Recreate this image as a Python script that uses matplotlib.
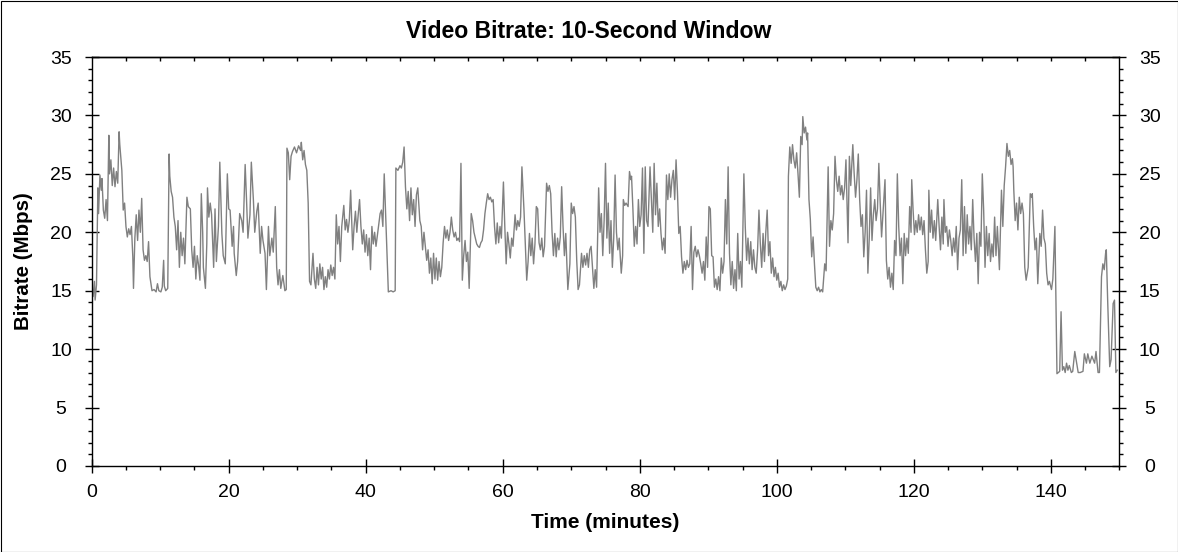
import numpy as np
import matplotlib
matplotlib.use("Agg")
import matplotlib.pyplot as plt
from matplotlib.patches import Rectangle
from matplotlib.ticker import MultipleLocator

plt.rcParams["font.family"] = ["Liberation Sans", "DejaVu Sans"]

title = "Video Bitrate: 10-Second Window"
x_label = "Time (minutes)"
y_label = "Bitrate (Mbps)"

# minutes
time_min = [
    0.0, 0.2, 0.4, 0.5, 0.7, 0.9, 1.0, 1.2, 1.4, 1.5, 1.7, 1.9, 2.1, 2.3, 2.5, 2.6, 2.8, 3.0, 3.2, 3.4,
    3.6, 3.8, 4.0, 4.1, 4.3, 4.4, 4.6, 4.8, 5.0, 5.2, 5.4, 5.6, 5.8, 6.0, 6.1, 6.3, 6.5, 6.7, 6.9, 7.1,
    7.3, 7.5, 7.7, 7.9, 8.1, 8.3, 8.5, 8.8, 9.1, 9.4, 9.6, 9.8, 10.1, 10.3, 10.5, 10.6, 10.8, 11.1, 11.3, 11.4,
    11.6, 11.8, 12.0, 12.2, 12.4, 12.6, 12.8, 13.0, 13.2, 13.4, 13.6, 13.9, 14.1, 14.4, 14.6, 14.8, 15.0, 15.2, 15.4, 15.6,
    15.8, 16.0, 16.2, 16.3, 16.6, 16.8, 16.9, 17.1, 17.3, 17.5, 17.8, 18.0, 18.2, 18.5, 18.7, 19.0, 19.2, 19.5, 19.8, 20.0,
    20.2, 20.5, 20.7, 20.8, 21.1, 21.3, 21.6, 21.9, 22.1, 22.4, 22.6, 22.8, 23.1, 23.3, 23.6, 23.8, 24.1, 24.3, 24.6, 24.8,
    25.0, 25.3,
    25.5, 25.8, 26.0, 26.3, 26.5, 26.8, 27.0, 27.2, 27.4, 27.6, 27.9, 28.2, 28.4, 28.5, 28.7, 28.9, 29.1, 29.3, 29.6, 29.9,
    30.2, 30.5, 30.6, 30.8, 31.0, 31.2, 31.4, 31.6, 31.8, 32.0, 32.3, 32.5, 32.7, 32.9, 33.1, 33.3, 33.5, 33.7, 33.9, 34.1,
    34.3, 34.5, 34.7, 34.9, 35.1, 35.3, 35.5, 35.7, 35.9, 36.1, 36.3, 36.5, 36.8, 37.0, 37.2, 37.4, 37.6, 37.8, 38.1, 38.3,
    38.5, 38.7, 38.9, 39.1, 39.3, 39.5, 39.7, 39.9, 40.1, 40.3, 40.5, 40.7, 40.9, 41.1, 41.3, 41.5, 41.8, 42.1, 42.3, 42.5,
    42.7, 43.0, 43.2, 43.3, 43.7, 44.0, 44.3, 44.4, 44.7, 45.0, 45.2, 45.4, 45.6, 45.8, 46.0, 46.2, 46.4, 46.6, 46.8, 47.0,
    47.2, 47.4, 47.6, 47.9, 48.1, 48.3, 48.5, 48.7, 48.9, 49.1, 49.3, 49.5, 49.7, 49.9, 50.1, 50.3,
    50.5, 50.7, 50.9, 51.1, 51.3, 51.5, 51.7, 51.9, 52.1, 52.3, 52.5, 52.7, 52.9, 53.1, 53.3, 53.5, 53.7, 53.9, 54.1, 54.3,
    54.5, 54.7, 54.9, 55.1, 55.4, 55.6, 55.8, 56.0, 56.2, 56.4, 56.6, 56.8, 57.0, 57.2, 57.4, 57.6, 57.8, 58.0, 58.2, 58.4,
    58.6, 58.8, 59.0, 59.2, 59.4, 59.6, 59.8, 60.1, 60.3, 60.5, 60.7, 60.9, 61.1, 61.3, 61.5, 61.8, 62.0, 62.2, 62.4, 62.6,
    62.8, 63.1, 63.3, 63.5, 63.7, 63.9, 64.1, 64.3, 64.5, 64.7, 64.9, 65.1, 65.3, 65.5, 65.7, 65.9, 66.1, 66.4, 66.6, 66.8,
    67.0, 67.2, 67.4, 67.6, 67.8, 68.0, 68.2, 68.4, 68.6, 68.8, 69.0, 69.2, 69.5, 69.8, 70.0, 70.2, 70.4, 70.6, 70.8, 71.0,
    71.2, 71.5, 71.7, 71.9, 72.1, 72.3, 72.5, 72.7, 72.9, 73.1, 73.3, 73.5, 73.7, 74.0, 74.2, 74.4, 74.6, 74.8, 75.0, 75.2,
    75.4, 75.6, 75.8, 76.0, 76.2,
    76.4, 76.6, 76.8, 77.0, 77.3, 77.5, 77.6, 77.8, 78.0, 78.3, 78.5, 78.7, 78.8, 79.0, 79.2, 79.4, 79.6, 79.8, 80.0, 80.2,
    80.4, 80.6, 80.8, 81.0, 81.2, 81.5, 81.7, 81.9, 82.1, 82.3, 82.5, 82.7, 82.9, 83.1, 83.3, 83.5, 83.7, 83.9, 84.1, 84.3,
    84.5, 84.7, 84.9, 85.1, 85.3, 85.5, 85.7, 85.9, 86.1, 86.3, 86.5, 86.7, 86.9, 87.1, 87.3, 87.5, 87.7, 87.9, 88.1, 88.3,
    88.5, 88.7, 88.9, 89.1, 89.3, 89.5, 89.7, 89.9, 90.1, 90.3, 90.5, 90.7, 90.9, 91.1, 91.3, 91.5, 91.7, 91.9, 92.1, 92.3,
    92.5, 92.7, 92.9, 93.1, 93.3, 93.5, 93.7, 93.9, 94.1, 94.3, 94.5, 94.7, 94.9, 95.2, 95.4, 95.6, 95.8, 96.0, 96.2, 96.4,
    96.6, 96.8, 97.0, 97.2, 97.4, 97.6, 97.8, 98.0, 98.2, 98.4, 98.6, 98.8, 99.0, 99.2, 99.4, 99.6, 99.8, 100.0, 100.2, 100.4,
    100.6, 100.8, 101.0, 101.2, 101.4, 101.6,
    101.7, 101.9, 102.1, 102.3, 102.5, 102.7, 102.9, 103.1, 103.3, 103.5, 103.7, 103.8, 104.0, 104.2, 104.4, 104.5, 104.7, 104.9, 105.1, 105.3,
    105.5, 105.7, 105.9, 106.1, 106.3, 106.5, 106.7, 107.0, 107.2, 107.5, 107.7, 107.9, 108.1, 108.3, 108.5, 108.7, 108.9, 109.1, 109.3, 109.5,
    109.7, 109.9, 110.1, 110.4, 110.6, 110.8, 111.1, 111.3, 111.5, 111.7, 111.9, 112.1, 112.3, 112.5, 112.7, 112.9, 113.1, 113.3, 113.5, 113.7,
    113.9, 114.1, 114.3, 114.5, 114.7, 114.9, 115.1, 115.3, 115.5, 115.8, 116.0, 116.2, 116.4, 116.6, 116.8, 117.0, 117.2, 117.4, 117.6, 117.8,
    118.0, 118.2, 118.4, 118.6, 118.8, 119.0, 119.2, 119.4, 119.6, 119.7, 119.9, 120.1, 120.3, 120.5, 120.7, 120.9, 121.1, 121.3, 121.5, 121.7,
    121.9, 122.1, 122.2, 122.4, 122.6, 122.8, 123.0, 123.2, 123.5, 123.7, 123.9, 124.1, 124.3, 124.4, 124.6, 124.8, 125.0, 125.2, 125.4, 125.6,
    125.8, 126.0, 126.2, 126.4, 126.6, 126.8, 127.0, 127.2,
    127.4, 127.6, 127.8, 128.0, 128.2, 128.4, 128.6, 128.8, 129.0, 129.2, 129.4, 129.6, 129.8, 130.0, 130.2, 130.4, 130.6, 130.8, 131.0, 131.2,
    131.4, 131.6, 131.8, 132.0, 132.2, 132.5, 132.8, 133.0, 133.2, 133.4, 133.6, 133.8, 134.0, 134.2, 134.4, 134.5, 134.6, 134.8, 135.0, 135.2,
    135.4, 135.6, 135.8, 136.0, 136.2, 136.4, 136.7, 137.0, 137.2, 137.3, 137.5, 137.7, 137.9, 138.1, 138.4, 138.6, 138.8, 139.0, 139.2, 139.4,
    139.6, 139.8, 140.1, 140.3, 140.6, 140.7, 140.9, 141.1, 141.3, 141.5, 141.7, 141.9, 142.1, 142.3, 142.5, 142.7, 143.0, 143.2, 143.5, 143.7,
    144.0, 144.3, 144.7, 144.9, 145.2, 145.4, 145.7, 146.0, 146.4, 146.6, 146.9, 147.1, 147.4, 147.6, 147.8, 148.0, 148.1, 148.3, 148.6, 148.8,
    149.1, 149.3, 149.5, 149.7,
]

# Mbps
bitrate_mbps = [
    15.0, 14.5, 15.8, 14.2, 15.5, 23.8, 21.6, 24.9, 23.6, 24.6, 21.9, 21.2, 22.8, 21.0, 28.3, 25.0, 26.2, 24.0, 25.5, 23.9,
    25.2, 24.2, 28.6, 27.5, 26.0, 25.3, 21.9, 22.5, 20.5, 19.6, 20.3, 19.8, 20.5, 17.9, 15.2, 19.5, 21.5, 19.3, 21.9, 20.0,
    22.9, 18.5, 17.6, 18.0, 17.5, 19.2, 16.2, 15.0, 15.1, 14.9, 15.6, 15.0, 14.9, 15.3, 17.6, 15.4, 15.0, 15.2, 26.7, 24.8,
    23.5, 23.0, 21.3, 20.5, 18.5, 21.0, 17.0, 20.0, 18.0, 19.5, 17.3, 23.0, 22.2, 22.0, 18.5, 17.0, 18.8, 16.0, 18.0, 17.2,
    15.9, 23.3, 20.0, 17.0, 15.2, 19.0, 23.8, 21.3, 22.5, 21.5, 17.0, 22.0, 17.5, 20.5, 26.0, 19.9, 18.0, 17.3, 25.0, 22.0,
    21.9, 18.8, 20.5, 18.2, 16.3, 17.5, 21.6, 21.0, 20.0, 25.8, 22.8, 19.5, 21.5, 26.0, 22.8, 20.0, 21.8, 22.5, 18.2, 20.5,
    19.3, 18.2,
    15.1, 20.5, 18.0, 19.5, 18.3, 22.2, 17.0, 15.5, 16.8, 15.2, 16.3, 15.0, 15.1, 27.2, 26.8, 24.5, 26.5, 26.9, 27.3, 26.8,
    27.4, 27.0, 27.7, 26.2, 27.0, 25.8, 25.3, 22.5, 15.8, 15.5, 18.2, 16.0, 15.2, 17.0, 15.5, 17.3, 16.0, 17.0, 15.1, 16.2,
    15.3, 16.8, 16.0, 17.2, 16.3, 17.0, 16.0, 21.5, 19.0, 20.5, 17.5, 20.5, 22.3, 20.2, 21.1, 20.0, 21.0, 23.6, 18.5, 20.5,
    21.8, 20.0, 21.5, 22.8, 20.5, 19.0, 20.2, 18.3, 19.8, 18.0, 19.5, 16.8, 20.5, 19.0, 20.0, 18.8, 20.2, 21.6, 21.9, 20.5,
    25.0, 19.9, 16.5, 14.9, 15.0, 14.9, 15.0, 25.5, 25.3, 25.7, 25.5, 26.0, 27.3, 23.9, 22.0, 23.5, 21.0, 23.8, 21.5, 22.8,
    20.5, 23.2, 23.8, 21.0, 20.5, 18.5, 20.0, 18.8, 17.6, 18.5, 16.5, 17.8, 15.6, 18.2, 16.0, 17.8,
    15.9, 17.5, 16.2, 17.0, 19.1, 20.5, 19.5, 20.2, 19.3, 20.0, 21.3, 20.2, 19.6, 20.0, 19.3, 19.5, 19.2, 25.9, 15.9, 18.0,
    19.3, 17.5, 18.3, 15.2, 21.6, 21.0, 20.0, 19.5, 19.0, 18.8, 18.7, 19.1, 19.3, 20.2, 21.6, 22.5, 23.3, 22.8, 23.0, 22.6,
    22.8, 20.5, 19.0, 20.8, 19.1, 20.5, 19.5, 24.3, 20.5, 17.3, 20.0, 19.0, 17.8, 19.5, 18.8, 21.5, 20.2, 21.0, 20.5, 21.3,
    25.6, 21.9, 19.0, 15.9, 17.5, 19.9, 18.0, 19.5, 17.3, 19.0, 22.2, 22.0, 19.1, 18.5, 19.5, 17.9, 18.8, 24.2, 23.5, 24.0,
    23.3, 20.0, 18.0, 19.9, 17.9, 19.5, 18.5, 19.6, 23.9, 20.5, 18.0, 19.9, 15.1, 17.3, 22.5, 21.6, 22.2, 21.3, 17.6, 15.1,
    15.5, 18.2, 17.0, 18.0, 17.2, 18.2, 17.0, 18.5, 18.8, 17.0, 15.2, 16.8, 15.3, 23.8, 20.0, 21.6, 18.0, 21.0, 25.9, 19.5,
    22.5, 18.2, 21.0, 17.0, 19.5,
    24.9, 20.0, 18.5, 19.5, 16.5, 18.0, 22.8, 22.3, 22.5, 22.2, 25.2, 24.5, 24.8, 22.0, 18.8, 20.5, 19.0, 22.8, 20.5, 21.5,
    25.5, 18.2, 25.6, 21.0, 20.5, 25.6, 22.8, 20.0, 25.9, 21.5, 24.2, 20.5, 22.0, 19.9, 18.5, 19.5, 18.2, 24.9, 22.8, 25.0,
    23.0, 24.5, 25.3, 22.8, 26.2, 23.5, 19.9, 20.5, 17.9, 16.5, 17.5, 16.8, 17.6, 17.0, 17.3, 20.5, 15.1, 18.3, 18.8, 17.9,
    18.5, 18.0, 17.3, 16.5, 17.5, 15.9, 19.6, 17.0, 22.2, 22.0, 18.0, 17.9, 15.3, 16.0, 15.1, 16.2, 15.0, 17.8, 16.5, 17.5,
    22.8, 19.0, 25.6, 18.2, 15.5, 17.5, 15.2, 16.8, 15.0, 19.9, 16.0, 17.5, 15.3, 25.0, 20.5, 17.6, 19.5, 17.3, 19.2, 16.8,
    18.5, 17.0, 16.5, 18.5, 21.9, 19.0, 17.0, 19.9, 17.5, 20.0, 21.9, 18.0, 19.2, 16.5, 17.8, 16.2, 17.0, 15.9, 16.5, 15.3,
    15.8, 15.0, 15.5, 15.1, 15.4, 16.0,
    24.8, 27.3, 25.9, 27.5, 26.2, 25.5, 26.8, 25.0, 23.0, 28.2, 27.5, 29.9, 28.5, 29.0, 27.9, 28.5, 22.8, 21.1, 17.9, 19.6,
    17.3, 15.3, 15.0, 15.3, 14.9, 15.1, 14.9, 17.3, 16.7, 25.6, 18.8, 21.0, 20.2, 21.6, 26.5, 24.5, 23.5, 24.8, 23.2, 24.0,
    22.8, 23.8, 26.2, 19.1, 26.5, 24.0, 27.5, 25.0, 23.0, 24.5, 26.7, 22.8, 20.5, 21.5, 17.9, 20.0, 23.6, 16.5, 19.5, 23.8,
    19.3, 21.5, 22.8, 21.0, 22.0, 25.9, 22.5, 19.6, 21.5, 24.5, 17.6, 16.0, 17.0, 15.3, 16.5, 15.1, 19.3, 18.0, 25.0, 20.5,
    18.0, 19.5, 15.6, 19.9, 18.0, 19.5, 18.2, 22.2, 20.0, 24.5, 21.9, 19.8, 21.0, 20.0, 21.5, 20.2, 21.3, 19.8, 21.0, 18.5,
    16.5, 17.5, 23.6, 20.0, 21.9, 19.5, 21.0, 19.3, 22.8, 20.5, 18.5, 21.3, 19.0, 22.8, 20.0, 20.5, 18.8, 20.2, 19.3, 18.0,
    19.5, 18.3, 20.5, 16.8, 19.5, 20.2, 24.5, 18.0,
    22.2, 18.2, 21.5, 19.0, 20.5, 18.5, 22.8, 19.5, 17.5, 19.9, 15.6, 20.0, 18.8, 25.0, 21.9, 17.0, 20.5, 18.0, 19.9, 17.5,
    19.0, 17.9, 21.3, 18.0, 20.5, 16.8, 23.6, 20.5, 24.0, 25.6, 27.6, 26.5, 27.0, 25.8, 26.3, 25.6, 23.6, 21.0, 22.5, 20.2,
    23.0, 21.6, 22.5, 21.6, 17.0, 15.9, 17.0, 23.3, 23.0, 23.3, 20.5, 18.5, 19.5, 15.6, 19.9, 18.8, 21.9, 19.5, 19.0, 16.5,
    15.5, 15.8, 15.1, 16.0, 20.5, 16.5, 7.9, 8.0, 8.1, 13.2, 8.2, 8.5, 8.0, 8.8, 8.2, 8.6, 8.0, 8.1, 9.8, 9.1,
    8.0, 8.0, 8.1, 9.6, 8.8, 9.6, 8.8, 9.4, 8.8, 9.8, 8.0, 8.0, 16.2, 17.3, 16.8, 18.2, 18.5, 14.2, 8.5, 9.1,
    13.9, 14.2, 8.0, 8.2,
]

x_major = np.arange(0, 141, 20)
x_top = np.arange(5, 150, 5)
y_major = np.arange(0, 36, 5)

W, H = 1178, 552
fig = plt.figure(figsize=(W / 100, H / 100), dpi=100)

# plot frame in pixels
left, right, top, bottom = 91.7, 1119.3, 57, 466
ax = fig.add_axes([left / W, 1 - bottom / H, (right - left) / W, (bottom - top) / H])

t = np.array(time_min)
v = np.array(bitrate_mbps)
assert len(t) == len(v), (len(t), len(v))
ax.plot(t, v, color="#808080", lw=1.0)

ax.set_xlim(0, 150)
ax.set_ylim(0, 35)

for s in ax.spines.values():
    s.set_linewidth(1.0)

ax.set_xticks(x_major)
ax.xaxis.set_minor_locator(MultipleLocator(5))
ax.set_yticks(y_major)
ax.yaxis.set_minor_locator(MultipleLocator(1))

ax.tick_params(axis="x", which="major", direction="inout", length=10, width=1,
               labelsize=14, pad=8, top=False)
ax.tick_params(axis="x", which="minor", direction="out", length=3, width=1, top=False)
ax.tick_params(axis="y", which="major", direction="inout", length=10, width=1,
               labelsize=14, pad=17, left=True, right=True, labelleft=True, labelright=True)
ax.tick_params(axis="y", which="minor", direction="out", length=3, width=1,
               left=True, right=True)

# y tick labels sit centred, not flush against the axis
for tk in ax.yaxis.get_major_ticks():
    tk.label1.set_horizontalalignment("center")
    tk.label2.set_horizontalalignment("center")

# short inward ticks along the top edge
top_ax = ax.secondary_xaxis("top")
top_ax.set_xticks(x_top)
top_ax.tick_params(direction="in", length=3, width=1, labeltop=False)
top_ax.spines["top"].set_linewidth(1.0)

ax.set_xlabel(x_label, fontsize=15, fontweight="bold", va="top")
ax.xaxis.set_label_coords(0.5, -(513 - bottom) / (bottom - top))
ax.set_ylabel(y_label, fontsize=14.8, fontweight="bold")
ax.yaxis.set_label_coords(-(left - 33) / (right - left), 0.5)
fig.text(0.5, 1 - 38 / H, title, ha="center", va="baseline", fontsize=16.6, fontweight="bold")

# outline round the whole picture
fig.add_artist(Rectangle((0.5 / W, 0.5 / H), (W - 1) / W, (H - 1) / H, transform=fig.transFigure,
                         fill=False, edgecolor="black", lw=0.8))

fig.savefig("out.png", dpi=100)
